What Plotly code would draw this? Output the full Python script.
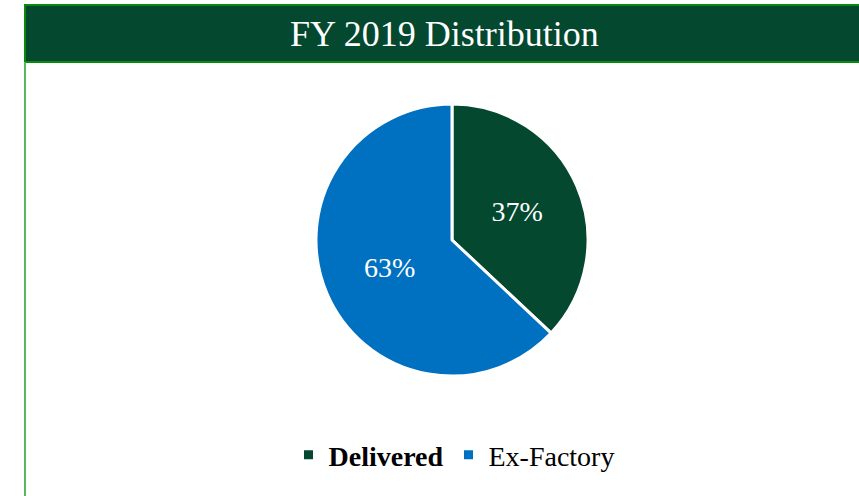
import plotly.graph_objects as go

labels = ["<b>Delivered</b>", "Ex-Factory"]
values = [37, 63]
colors = ["#03482F", "#0070C0"]
title = "FY 2019 Distribution"

W, H = 859, 496
cx, cy, r = 452, 240, 136

fig = go.Figure(go.Pie(
    labels=labels, values=values, sort=False, direction="clockwise", rotation=0,
    marker=dict(colors=colors, line=dict(color="white", width=3)),
    textinfo="percent", texttemplate="%{percent:.0%}", textposition="inside",
    insidetextorientation="horizontal",
    textfont=dict(family="Liberation Serif", size=28, color="white"),
    domain=dict(x=[(cx - r) / W, (cx + r) / W], y=[1 - (cy + r) / H, 1 - (cy - r) / H]),
    hoverinfo="label+percent",
))

fig.update_layout(
    width=W, height=H, margin=dict(l=0, r=0, t=0, b=0),
    paper_bgcolor="white", plot_bgcolor="white",
    showlegend=True,
    legend=dict(orientation="h", x=454 / W, xanchor="center", y=(H - 455) / H, yanchor="middle",
                font=dict(family="Liberation Serif", size=28, color="black"),
                itemwidth=30, traceorder="normal"),
    shapes=[
        dict(type="rect", xref="paper", yref="paper", x0=25 / W, x1=1.01, y0=1 - 62 / H, y1=1 - 5 / H,
             fillcolor="#03482F", line=dict(color="#0A8A0A", width=2), layer="below"),
        dict(type="line", xref="paper", yref="paper", x0=25 / W, x1=25 / W, y0=0.0, y1=1 - 62 / H,
             line=dict(color="#5BB55B", width=2)),
    ],
    annotations=[dict(text=title, xref="paper", yref="paper", x=445 / W, y=1 - 34 / H,
                      showarrow=False, xanchor="center", yanchor="middle",
                      font=dict(family="Liberation Serif", size=36, color="white"))],
)

fig.write_html("out.html", config={"displayModeBar": False},
               post_script="document.body.style.margin='0';document.body.style.overflow='hidden';")
